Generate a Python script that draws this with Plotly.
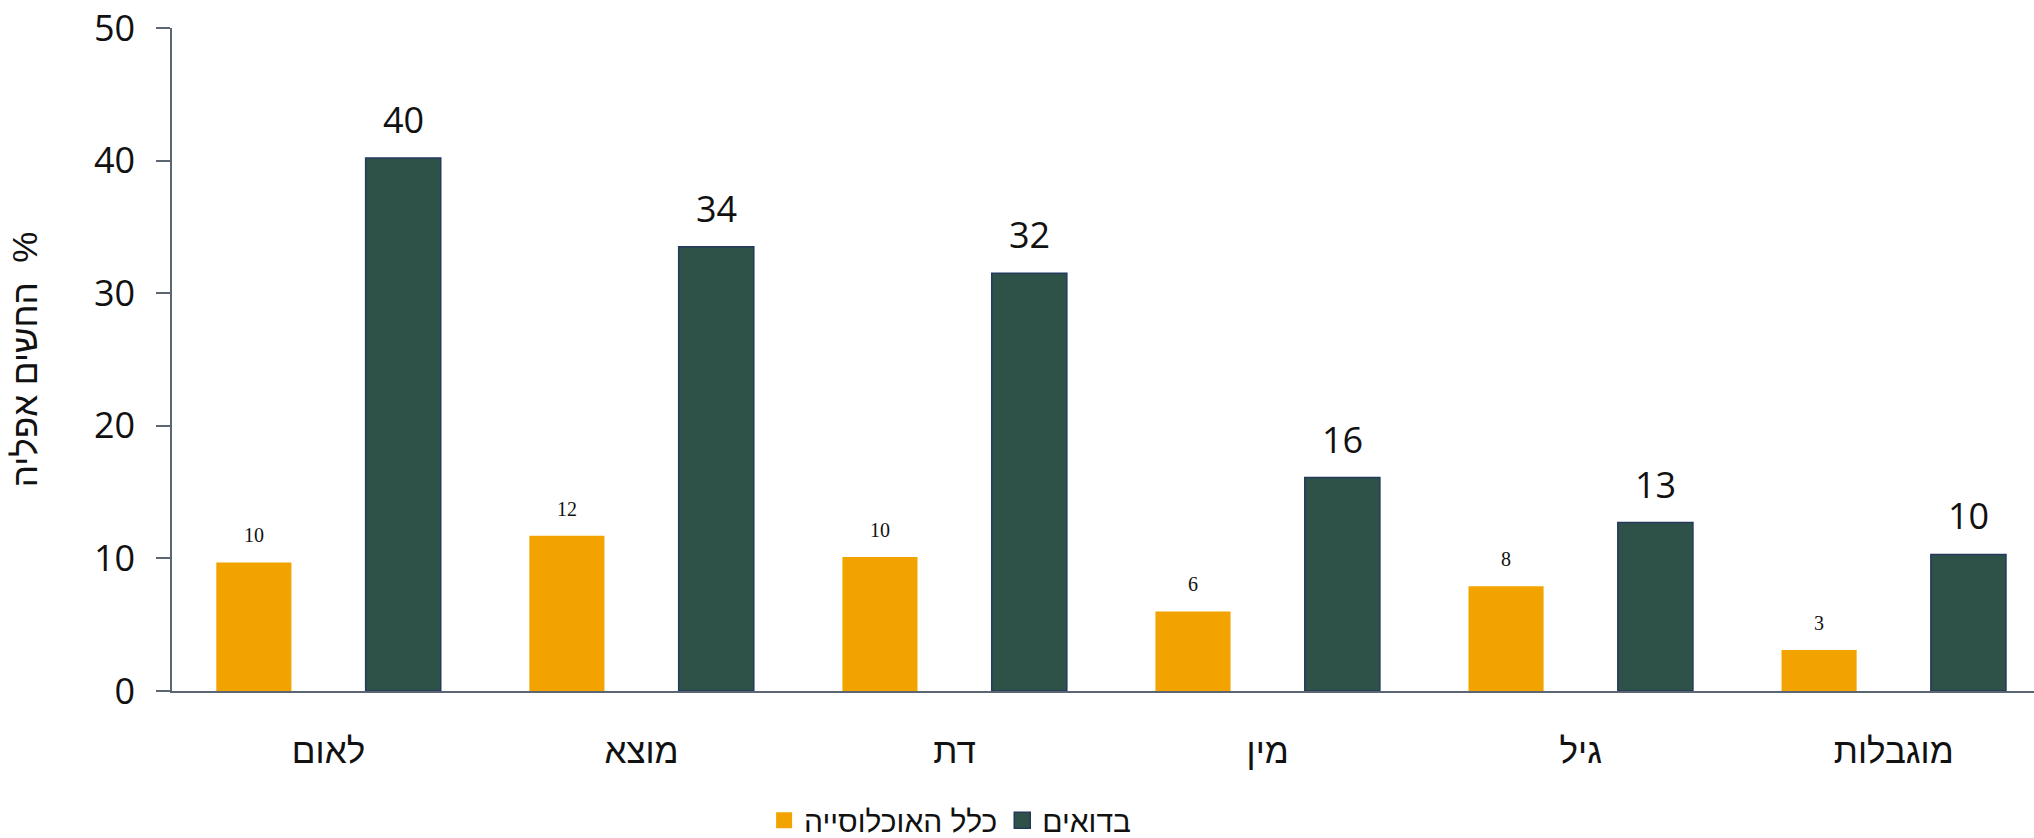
import plotly.graph_objects as go

categories = ["לאום", "מוצא", "דת", "מין", "גיל", "מוגבלות"]
general_pop = [9.7, 11.7, 10.1, 6.0, 7.9, 3.1]
general_labels = ["10", "12", "10", "6", "8", "3"]
bedouins = [40.2, 33.5, 31.5, 16.1, 12.7, 10.3]
bedouin_labels = ["40", "34", "32", "16", "13", "10"]
series_names = ["כלל האוכלוסייה", "בדואים"]
y_title = "החשים אפליה\u00a0\u00a0%"

W, H = 2034, 838
L, R, T, B = 172, 0, 28, 147
x_range = [-0.5, 5.448]
cat_px = (W - L - R) / (x_range[1] - x_range[0])
bargap, bargroupgap = 0.046, 0.497
shift = (1 - bargap) / 4 * cat_px

ORANGE = "#f2a300"
DARK = "#2e5148"
EDGE = "#24395e"
AXIS = "#5b6672"
NUM_FONT = "Open Sans, Liberation Sans, sans-serif"
HEB_FONT = "Liberation Sans, Open Sans, sans-serif"

fig = go.Figure()
fig.add_trace(go.Bar(x=categories, y=general_pop, name=series_names[0], showlegend=False,
                     marker=dict(color=ORANGE, line=dict(width=0))))
fig.add_trace(go.Bar(x=categories, y=bedouins, name=series_names[1], showlegend=False,
                     marker=dict(color=DARK, line=dict(color=EDGE, width=1.5))))
# legend entries with larger square swatches
fig.add_trace(go.Scatter(x=[None], y=[None], mode="markers", name=series_names[0],
                         marker=dict(symbol="square", size=16, color=ORANGE, line=dict(width=0))))
fig.add_trace(go.Scatter(x=[None], y=[None], mode="markers", name=series_names[1],
                         marker=dict(symbol="square", size=16, color=DARK, line=dict(color=EDGE, width=1.5))))

annotations = []
for c, v, t in zip(categories, general_pop, general_labels):
    annotations.append(dict(x=c, y=v, text=t, xref="x", yref="y", showarrow=False,
                            xanchor="center", yanchor="bottom", xshift=-shift, yshift=14,
                            font=dict(family="Liberation Serif, DejaVu Serif, serif", size=20, color="#111")))
for c, v, t in zip(categories, bedouins, bedouin_labels):
    annotations.append(dict(x=c, y=v, text=t, xref="x", yref="y", showarrow=False,
                            xanchor="center", yanchor="bottom", xshift=shift, yshift=12,
                            font=dict(family=NUM_FONT, size=36, color="#111")))

fig.update_layout(
    width=W, height=H,
    margin=dict(l=L, r=R, t=T, b=B, pad=0, autoexpand=False),
    paper_bgcolor="white", plot_bgcolor="white",
    barmode="group", bargap=bargap, bargroupgap=bargroupgap,
    font=dict(family=NUM_FONT, color="#111"),
    showlegend=True,
    legend=dict(orientation="h", x=0.318, xanchor="left", y=-0.195, yanchor="middle",
                font=dict(size=30, family=HEB_FONT, color="#111"),
                itemwidth=30, traceorder="normal"),
    annotations=annotations,
    xaxis=dict(range=x_range, showline=True, linecolor=AXIS, linewidth=1.5,
               ticks="outside", ticklen=28, tickcolor="rgba(0,0,0,0)",
               tickfont=dict(size=35, family=HEB_FONT, color="#111"),
               showgrid=False, zeroline=False, fixedrange=True),
    yaxis=dict(range=[0, 50], dtick=10, showline=True, linecolor=AXIS, linewidth=1.5,
               ticks="outside", ticklen=14, tickwidth=1.5, tickcolor=AXIS,
               ticklabelstandoff=14, ticklabeloverflow="allow",
               tickfont=dict(size=36, family=NUM_FONT, color="#111"),
               showgrid=False, zeroline=False,
               title=dict(text=y_title, standoff=46,
                          font=dict(size=35, family=HEB_FONT, color="#111"))),
)

fig.write_html("out.html",
               config={"displayModeBar": False},
               post_script="document.body.style.margin='0';document.body.style.overflow='hidden';")
